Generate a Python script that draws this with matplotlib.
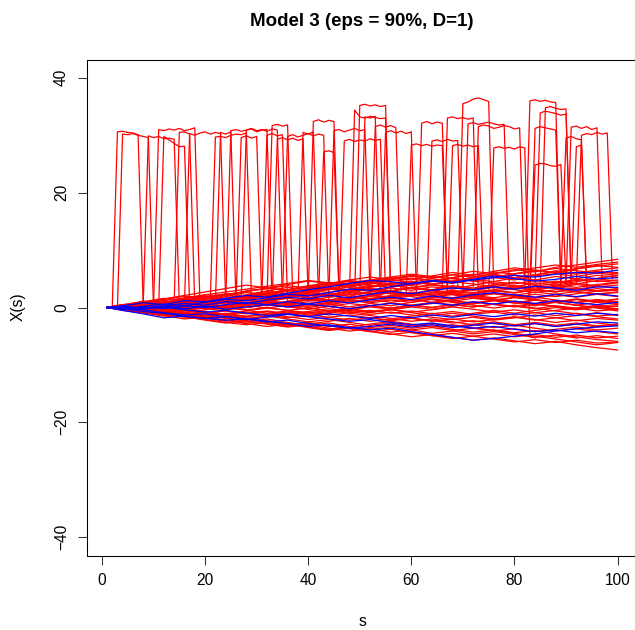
import numpy as np
import matplotlib.pyplot as plt

plt.rcParams['font.family'] = ['Liberation Sans', 'DejaVu Sans']

s_grid = [1, 4, 8, 12, 16, 20, 24, 28, 32, 36, 40, 44, 48, 52, 56, 60,
          64, 68, 72, 76, 80, 84, 88, 92, 96, 100]

# red paths (clean part of the band)
red_paths = [
    [0, 0.4, 1.1, 0.8, 1.5, 2.2, 2.0, 2.9, 3.3, 3.0, 3.8, 4.1, 4.7, 4.3, 4.9, 5.4, 5.1, 5.7, 6.3, 5.9, 6.6, 6.2, 7.0, 7.4, 7.9, 8.4],
    [0, -0.3, 0.2, 0.9, 1.4, 1.1, 1.9, 2.6, 2.3, 3.1, 3.7, 4.4, 4.0, 4.6, 5.2, 4.8, 5.5, 6.1, 5.6, 6.3, 6.9, 6.5, 6.1, 6.7, 7.2, 7.6],
    [0, 0.5, 0.1, 0.8, 1.6, 2.0, 1.5, 2.2, 2.9, 3.5, 3.1, 3.9, 4.6, 4.2, 4.8, 4.4, 5.0, 4.6, 5.3, 5.8, 5.2, 5.7, 6.4, 6.0, 6.5, 6.9],
    [0, 0.2, 0.7, 0.3, 1.0, 1.4, 2.1, 1.7, 2.4, 2.0, 2.7, 3.3, 2.9, 3.6, 4.2, 3.8, 4.5, 5.1, 4.6, 5.2, 4.8, 5.5, 5.9, 5.4, 6.0, 6.1],
    [0, -0.4, 0.0, 0.6, 0.2, 0.9, 1.5, 2.2, 2.8, 2.4, 3.0, 2.6, 3.2, 3.9, 3.5, 4.1, 4.7, 4.2, 4.9, 4.5, 5.2, 4.8, 5.4, 5.0, 5.6, 5.3],
    [0, 0.3, -0.2, 0.4, 0.9, 0.5, 1.2, 0.8, 1.5, 2.1, 1.7, 2.4, 2.0, 2.7, 3.4, 3.0, 3.6, 3.2, 3.9, 4.5, 4.1, 4.7, 4.3, 4.9, 4.5, 4.8],
    [0, 0.1, 0.6, 1.2, 0.7, 1.3, 1.0, 1.7, 2.3, 1.9, 2.6, 3.2, 2.7, 3.3, 2.9, 3.5, 4.0, 3.6, 3.2, 3.9, 4.4, 4.0, 4.6, 4.1, 4.7, 4.3],
    [0, -0.2, 0.4, 0.1, 0.7, 0.3, 0.9, 1.4, 1.0, 1.6, 1.2, 1.8, 2.4, 2.0, 2.6, 2.2, 2.9, 3.5, 3.1, 3.7, 3.3, 3.8, 3.4, 4.0, 3.6, 3.9],
    [0, 0.4, 0.9, 0.5, 1.1, 1.6, 1.2, 0.8, 1.4, 2.0, 2.6, 2.2, 2.8, 3.3, 2.9, 2.4, 3.0, 2.6, 3.2, 2.8, 3.4, 3.0, 3.6, 3.2, 3.7, 3.4],
    [0, -0.3, 0.1, -0.4, 0.2, 0.7, 0.3, 0.9, 0.5, 1.1, 1.7, 1.3, 1.9, 1.5, 2.1, 2.7, 2.2, 2.8, 2.4, 3.0, 2.6, 3.1, 2.7, 3.3, 2.9, 3.1],
    [0, 0.3, -0.1, 0.5, 0.1, 0.6, 1.1, 0.7, 1.2, 0.8, 1.4, 1.0, 1.5, 2.1, 1.7, 2.2, 1.8, 2.4, 2.0, 2.5, 2.1, 2.7, 2.3, 2.8, 2.4, 2.6],
    [0, -0.1, 0.5, 0.2, 0.8, 0.4, 0.0, 0.6, 1.1, 0.7, 1.3, 0.9, 1.4, 1.0, 1.6, 1.2, 1.7, 2.3, 1.9, 2.4, 2.0, 1.6, 2.2, 1.8, 2.3, 1.9],
    [0, 0.2, -0.3, 0.3, -0.1, 0.4, 0.9, 0.5, 1.0, 0.6, 0.2, 0.7, 1.2, 0.8, 1.3, 0.9, 1.5, 1.1, 1.6, 1.2, 1.7, 1.3, 0.9, 1.4, 1.0, 1.5],
    [0, -0.4, 0.1, -0.3, 0.2, -0.2, 0.4, 0.0, 0.5, 0.1, 0.6, 0.2, 0.7, 0.3, 0.8, 0.4, 0.0, 0.5, 0.1, 0.6, 1.1, 0.7, 1.2, 0.8, 1.3, 0.9],
    [0, 0.3, -0.2, 0.2, -0.3, 0.1, -0.4, 0.0, 0.5, 0.1, -0.3, 0.2, -0.2, 0.3, -0.1, 0.4, 0.0, 0.5, 0.1, 0.6, 0.2, -0.2, 0.3, -0.1, 0.4, 0.2],
    [0, -0.2, -0.7, -0.3, -0.8, -0.4, 0.1, -0.4, 0.0, -0.5, -0.1, -0.6, -0.2, -0.7, -0.3, -0.8, -0.4, 0.1, -0.3, -0.8, -0.4, -0.9, -0.5, -0.1, -0.6, -0.3],
    [0, 0.1, -0.4, -0.9, -0.5, -1.0, -0.6, -1.1, -0.7, -1.2, -0.8, -1.3, -0.9, -0.5, -1.0, -0.6, -1.1, -0.7, -1.2, -0.8, -1.3, -0.9, -1.4, -1.0, -1.5, -1.2],
    [0, -0.3, -0.8, -0.4, -0.9, -1.4, -1.0, -1.5, -1.1, -1.6, -2.1, -1.7, -2.2, -1.8, -2.3, -1.9, -2.4, -2.0, -2.5, -2.1, -1.7, -2.2, -1.8, -2.3, -1.9, -2.2],
    [0, 0.2, -0.3, -0.8, -1.3, -0.9, -1.4, -1.9, -1.5, -2.0, -2.5, -2.1, -2.6, -3.1, -2.7, -3.2, -2.8, -3.3, -2.9, -2.5, -3.0, -2.6, -3.1, -2.7, -3.2, -2.9],
    [0, -0.2, -0.6, -1.2, -0.8, -1.4, -1.9, -2.4, -2.0, -2.6, -3.1, -2.7, -3.3, -3.8, -3.4, -3.9, -3.5, -4.0, -3.6, -4.1, -3.7, -4.2, -3.8, -3.4, -3.9, -3.6],
    [0, -0.5, -1.0, -0.6, -1.2, -1.8, -2.3, -1.9, -2.5, -3.0, -2.6, -3.2, -3.7, -4.2, -3.8, -4.4, -4.9, -4.5, -5.0, -4.6, -5.1, -4.7, -5.2, -4.8, -5.3, -5.0],
    [0, -0.3, -0.9, -1.5, -1.1, -1.7, -2.2, -2.8, -3.3, -2.9, -3.5, -4.0, -3.6, -4.2, -4.7, -4.3, -4.9, -5.4, -5.0, -5.5, -6.0, -5.6, -6.1, -5.7, -6.2, -6.0],
    [0, -0.4, -0.8, -1.4, -2.0, -1.6, -2.2, -2.7, -2.3, -2.9, -3.4, -3.9, -3.5, -4.1, -4.6, -5.1, -4.7, -5.2, -5.7, -5.3, -5.8, -6.3, -5.9, -6.5, -7.0, -7.4],
    [0, 0.2, -0.4, -1.0, -1.6, -2.1, -2.6, -3.0, -2.6, -3.2, -2.8, -3.3, -2.9, -3.5, -3.1, -3.6, -3.2, -3.8, -4.3, -3.9, -4.4, -4.0, -4.6, -5.1, -5.6, -5.9],
    [0, 0.3, 0.8, 1.4, 2.0, 1.6, 2.2, 2.8, 3.4, 3.0, 3.6, 4.1, 3.7, 4.3, 3.9, 3.4, 3.9, 3.5, 3.0, 3.5, 3.1, 2.6, 3.1, 2.7, 2.3, 2.7],
    [0, 0.5, 1.0, 1.6, 1.2, 1.8, 2.4, 2.0, 2.6, 2.2, 1.8, 1.3, 1.8, 1.4, 0.9, 1.4, 0.9, 0.5, 1.0, 0.5, 0.1, 0.6, 0.2, -0.3, 0.2, -0.2],
    [0, -0.3, 0.3, 0.9, 1.5, 1.1, 0.6, 1.2, 0.7, 0.2, -0.3, 0.2, -0.3, -0.8, -0.4, -0.9, -1.4, -1.0, -1.5, -2.0, -1.6, -2.1, -2.6, -2.2, -2.7, -3.1],
    [0, 0.2, 0.7, 0.3, -0.2, -0.7, -1.2, -0.8, -1.3, -1.8, -1.4, -0.9, -0.4, 0.1, -0.3, 0.2, 0.7, 1.2, 0.8, 1.3, 1.8, 2.3, 1.9, 2.4, 2.9, 3.3],
    [0, -0.4, -0.9, -1.4, -1.0, -1.5, -1.1, -0.6, -0.1, 0.4, 0.0, 0.5, 1.0, 1.5, 2.0, 2.5, 2.1, 2.6, 3.1, 3.6, 3.2, 3.7, 4.2, 4.7, 5.1, 5.6],
    [0, 0.4, 0.0, -0.5, -0.1, 0.4, 0.9, 1.4, 1.9, 2.4, 2.9, 3.4, 3.0, 3.5, 4.0, 4.5, 4.1, 4.6, 5.1, 5.6, 5.2, 5.7, 6.2, 5.8, 6.3, 5.9],
    [0, -0.2, 0.3, 0.8, 1.3, 1.8, 2.3, 2.8, 3.3, 3.8, 3.4, 3.9, 3.5, 3.0, 2.6, 2.1, 2.6, 2.2, 1.7, 1.3, 0.8, 1.3, 0.9, 0.4, 0.9, 0.5],
    [0, 0.1, -0.4, -0.9, -1.4, -1.9, -2.4, -2.0, -1.5, -1.0, -1.5, -1.0, -0.5, -0.9, -0.4, 0.1, -0.3, 0.2, 0.7, 1.2, 0.8, 1.3, 0.9, 1.4, 1.0, 1.4],
    [0, 0.3, 0.7, 1.2, 1.7, 2.2, 2.7, 3.2, 3.7, 4.2, 4.7, 4.3, 3.8, 4.3, 3.9, 3.4, 2.9, 2.4, 1.9, 2.4, 1.9, 1.4, 0.9, 0.4, -0.1, -0.6],
    [0, -0.2, -0.7, -1.2, -1.7, -1.3, -1.8, -2.3, -2.8, -3.3, -2.9, -2.4, -1.9, -2.4, -2.0, -1.5, -1.0, -1.5, -1.0, -0.5, -1.0, -0.5, 0.0, -0.4, 0.1, -0.3],
    [0, 0.4, 0.9, 1.5, 2.1, 2.7, 3.3, 3.9, 3.4, 4.0, 4.6, 4.2, 4.8, 5.3, 4.9, 4.4, 4.0, 4.5, 4.1, 3.6, 3.2, 3.7, 3.3, 2.8, 3.3, 2.9],
    [0, -0.1, 0.4, 0.0, 0.5, 1.0, 1.5, 2.0, 2.5, 3.0, 2.6, 3.1, 3.6, 4.1, 4.6, 5.1, 4.7, 5.2, 5.7, 6.2, 5.8, 6.3, 6.8, 6.4, 6.0, 5.6],
    [0, 0.2, -0.2, -0.7, -0.3, -0.8, -1.3, -1.8, -2.3, -2.8, -3.3, -3.8, -3.4, -2.9, -2.4, -2.9, -3.4, -3.0, -3.5, -4.0, -4.5, -5.0, -5.5, -6.0, -6.5, -6.1],
    [0, -0.2, 0.2, 0.7, 1.2, 1.7, 1.3, 1.8, 2.3, 2.8, 3.3, 3.8, 4.3, 4.8, 5.3, 5.8, 5.4, 5.0, 4.6, 4.2, 3.8, 3.4, 3.9, 3.5, 4.0, 4.4],
    [0, 0.3, -0.1, 0.4, 0.9, 0.5, 0.0, -0.5, -1.0, -0.6, -1.1, -0.7, -0.2, 0.3, -0.1, 0.4, 0.9, 1.4, 1.9, 1.5, 1.0, 0.5, 1.0, 1.5, 1.1, 0.7],
    [0, -0.3, -0.8, -0.4, 0.1, 0.6, 0.2, 0.7, 1.2, 1.7, 2.2, 1.8, 2.3, 2.8, 2.4, 1.9, 1.4, 0.9, 0.4, -0.1, 0.4, -0.1, -0.6, -1.1, -1.6, -2.0],
    [0, 0.5, 0.2, 0.9, 1.3, 1.9, 1.4, 2.0, 1.6, 2.3, 2.9, 3.5, 3.1, 3.7, 4.3, 4.0, 4.6, 5.2, 5.8, 5.3, 5.9, 6.5, 6.1, 6.8, 7.3, 7.0],
    [0, -0.2, 0.3, -0.1, 0.6, 1.2, 0.8, 1.5, 2.1, 1.7, 2.3, 2.0, 2.6, 3.2, 2.8, 3.5, 3.1, 3.8, 3.4, 4.0, 3.6, 4.3, 3.9, 4.5, 5.0, 4.6],
    [0, 0.3, 0.6, 0.2, 0.7, 0.4, 1.0, 1.5, 1.1, 1.8, 2.4, 2.0, 1.6, 2.2, 1.8, 2.5, 2.1, 1.7, 2.3, 2.9, 2.5, 3.1, 2.7, 3.3, 2.8, 3.0],
    [0, -0.4, -0.1, -0.6, -0.2, 0.3, -0.2, 0.4, 0.9, 0.5, 1.0, 0.6, 0.1, 0.7, 0.3, 0.9, 1.4, 1.0, 0.6, 1.2, 0.8, 0.3, 0.9, 0.4, 0.0, 0.3],
    [0, 0.2, -0.3, -0.7, -1.1, -0.7, -1.2, -1.6, -1.2, -0.8, -1.3, -1.7, -1.3, -1.8, -2.2, -1.8, -2.3, -2.7, -2.3, -2.8, -3.2, -2.8, -3.3, -2.9, -3.4, -3.0],
    [0, -0.3, -0.6, -1.1, -1.6, -2.2, -2.7, -2.3, -2.9, -3.4, -3.0, -3.6, -4.1, -3.7, -4.3, -3.9, -4.5, -4.1, -4.6, -4.2, -4.7, -5.2, -4.8, -5.3, -4.9, -5.4],
    [0, 0.1, 0.5, 1.0, 0.6, 1.1, 1.6, 2.1, 1.7, 2.2, 2.7, 2.3, 2.8, 2.4, 2.9, 3.4, 3.0, 2.6, 2.1, 1.7, 2.2, 1.8, 1.3, 0.9, 1.4, 1.0],
    [0, -0.1, -0.5, -0.9, -0.5, -0.1, 0.4, 0.0, 0.5, 1.0, 1.5, 1.1, 1.6, 2.1, 2.6, 2.2, 1.8, 1.4, 1.9, 1.5, 1.0, 0.6, 0.2, -0.3, 0.1, -0.4],
    [0, 0.4, 0.1, -0.3, 0.2, -0.2, -0.6, -1.0, -0.6, -1.1, -0.7, -0.2, -0.7, -1.2, -0.8, -1.3, -1.7, -2.1, -1.7, -2.2, -1.8, -1.3, -1.8, -1.4, -0.9, -1.4],
    [0, -0.2, 0.2, 0.7, 1.2, 0.8, 1.3, 1.9, 2.5, 3.1, 3.7, 3.3, 3.9, 4.5, 5.0, 5.6, 5.2, 5.7, 5.3, 5.9, 6.4, 6.9, 7.4, 7.0, 7.5, 7.9],
    [0, 0.1, -0.3, 0.2, 0.7, 0.3, -0.1, 0.4, -0.1, -0.5, -0.9, -0.5, -1.0, -1.4, -1.9, -2.4, -2.0, -2.5, -3.0, -3.5, -3.1, -3.6, -4.1, -3.7, -4.2, -4.6],
    [0, -0.3, 0.1, 0.5, 0.1, 0.6, 1.1, 0.7, 0.3, 0.8, 0.4, 0.9, 1.4, 1.9, 1.5, 2.0, 2.5, 3.0, 2.6, 3.1, 3.6, 3.2, 3.7, 4.2, 3.8, 4.3],
]

# jumps of the contaminated red paths: first step, then the values step by
# step (first and last value being the level back in the band)
jump_starts = [2, 3, 8, 10, 11, 14, 16, 21, 22, 24, 26, 27, 31, 32, 33, 35,
               38, 40, 42, 44, 46, 48, 49, 50, 52, 54, 59, 61, 63, 66, 67,
               69, 70, 72, 75, 82, 83, 83, 84, 85, 89, 90, 91, 92]
jump_values = [
    [0.1, 30.6, 30.7, 30.5, 30.4, 30.1, 0.4],
    [0.0, 30.2, 30.1, 30.3, 30.0, 29.8, 29.6, -0.2],
    [0.5, 29.9, 29.6, 29.8, 29.4, 29.5, 29.3, 0.8],
    [0.3, 31.0, 30.8, 31.1, 30.9, 31.2, 30.8, 31.0, 31.3, 0.9],
    [0.2, 29.8, 29.2, 28.6, 28.0, 28.1, 0.6],
    [0.8, 30.5, 30.6, 30.2, 0.5],
    [0.4, 30.3, 30.0, 30.4, 30.6, 30.2, 30.5, 30.3, 1.1],
    [1.0, 29.7, 29.8, 29.6, 30.0, 30.2, 30.1, 30.4, 1.3],
    [0.6, 30.5, 30.2, 30.6, 0.9],
    [1.2, 30.8, 31.0, 30.7, 30.9, 31.1, 30.6, 30.9, 31.0, 0.7],
    [0.9, 29.6, 29.9, 29.5, 29.8, 1.4],
    [1.1, 30.9, 31.2, 30.8, 31.0, 30.7, 31.1, 30.9, 1.6],
    [1.5, 30.0, 30.3, 29.9, 30.1, 1.0],
    [1.3, 31.7, 31.9, 31.6, 31.8, 1.8],
    [0.8, 29.3, 29.6, 29.2, 29.5, 29.1, 29.4, 1.7],
    [1.9, 29.8, 30.1, 29.7, 30.0, 30.3, 29.9, 30.2, 30.0, 1.2],
    [1.4, 30.5, 30.2, 30.6, 2.0],
    [2.1, 32.4, 32.7, 32.3, 32.6, 32.4, 1.5],
    [1.8, 27.1, 27.3, 27.0, 2.3],
    [2.2, 30.8, 31.0, 30.6, 30.9, 31.2, 30.8, 31.0, 1.9],
    [1.6, 29.0, 29.3, 28.9, 29.2, 29.0, 29.4, 29.1, 29.3, 2.5],
    [2.4, 34.4, 33.2, 33.0, 33.3, 33.1, 32.9, 33.0, 2.0],
    [1.7, 35.2, 35.4, 35.1, 35.3, 35.0, 35.2, 2.8],
    [2.6, 33.2, 33.0, 33.3, 2.1],
    [2.0, 31.5, 31.8, 31.4, 31.7, 31.3, 2.9],
    [2.7, 30.5, 30.8, 30.4, 30.7, 30.3, 30.6, 2.2],
    [2.3, 28.3, 28.5, 28.2, 28.4, 28.1, 28.3, 28.2, 3.2],
    [3.0, 32.1, 32.4, 32.0, 32.3, 32.1, 2.4],
    [2.8, 29.0, 29.2, 28.9, 29.3, 29.0, 29.1, 3.4],
    [3.3, 33.0, 33.2, 32.9, 33.1, 32.8, 33.0, 2.6],
    [2.5, 28.2, 28.4, 28.1, 28.3, 28.0, 28.2, 3.6],
    [3.5, 35.5, 35.8, 36.3, 36.5, 36.2, 35.9, 2.9],
    [2.9, 32.0, 32.2, 31.9, 32.1, 32.3, 32.0, 31.8, 31.9, 3.8],
    [3.7, 31.5, 31.8, 31.6, 31.2, 31.4, 31.7, 31.5, 31.1, 31.3, 3.1],
    [3.2, 27.8, 28.0, 27.7, 27.9, 27.6, 28.0, 27.8, -5.1, -5.3],
    [4.1, 36.0, 36.2, 35.9, 36.1, 35.8, 35.7, 3.5],
    [3.6, 31.2, 31.5, 31.3, 31.1, 30.9, 4.2],
    [2.2, 24.8, 25.1, 25.0, 24.7, 24.6, 24.9, 4.3],
    [4.4, 33.9, 34.2, 34.0, 33.8, 33.5, 33.7, 3.9],
    [3.8, 34.8, 35.0, 34.7, 34.5, 34.6, 4.6],
    [4.5, 29.5, 29.8, 29.4, 29.2, 3.7],
    [4.0, 31.4, 31.6, 31.2, 31.5, 31.0, 31.3, 4.8],
    [4.7, 28.0, 28.3, 4.2],
    [4.3, 30.0, 30.3, 30.1, 30.5, 30.2, 30.4, 5.0],
]

# blue paths
blue_paths = [
    [0, 0.3, 0.8, 0.5, 1.2, 1.0, 1.6, 2.1, 1.8, 2.5, 3.1, 3.6, 4.2, 4.7, 4.5, 4.1, 4.6, 4.3, 4.8, 5.2, 5.6, 5.3, 5.8, 6.1, 6.0, 6.5],
    [0, -0.2, 0.2, 0.6, 0.3, 0.9, 1.4, 1.2, 1.7, 2.3, 2.0, 2.6, 3.2, 3.0, 3.6, 4.2, 4.7, 4.4, 4.9, 5.5, 5.0, 4.6, 4.9, 5.4, 5.0, 5.2],
    [0, 0.2, -0.2, 0.3, 0.7, 0.4, 1.0, 0.7, 1.3, 1.8, 1.5, 2.1, 1.7, 2.3, 2.8, 2.4, 3.0, 3.4, 3.1, 3.6, 3.2, 3.7, 3.4, 3.0, 3.6, 3.5],
    [0, -0.3, 0.1, -0.2, 0.3, 0.0, 0.5, 0.9, 0.5, 1.0, 0.6, 1.2, 0.8, 1.3, 1.8, 1.4, 2.0, 1.6, 2.2, 2.6, 2.2, 1.8, 2.3, 1.9, 2.4, 2.0],
    [0, 0.2, -0.1, 0.3, -0.2, 0.2, -0.3, 0.1, 0.5, 0.1, 0.6, 0.2, -0.2, 0.3, 0.7, 0.3, 0.8, 0.4, 1.0, 0.6, 1.1, 0.7, 1.2, 0.8, 0.5, 0.9],
    [0, -0.5, -1.1, -1.8, -1.5, -1.9, -1.6, -2.1, -1.7, -1.2, -1.6, -1.1, -1.5, -1.9, -1.4, -1.8, -1.3, -1.7, -1.2, -1.6, -1.1, -1.5, -1.0, -1.4, -1.0, -1.3],
    [0, -0.2, -0.7, -1.0, -1.5, -1.9, -2.2, -2.0, -2.5, -2.2, -2.8, -3.2, -3.6, -3.3, -2.9, -3.4, -3.0, -3.5, -3.1, -2.7, -3.2, -2.8, -3.3, -2.9, -2.5, -2.7],
    [0, -0.1, -0.4, -0.9, -1.3, -1.1, -1.6, -2.0, -2.4, -2.8, -3.3, -3.0, -3.5, -3.9, -3.6, -4.2, -4.7, -5.2, -5.7, -5.4, -5.0, -4.6, -4.1, -3.7, -3.4, -3.2],
    [0, 0.1, -0.3, 0.1, -0.4, -0.8, -0.5, -1.0, -1.4, -1.1, -1.6, -2.0, -2.4, -2.1, -2.6, -3.0, -2.7, -3.2, -3.6, -3.3, -3.8, -4.2, -3.9, -4.4, -4.1, -4.4],
]

x_ticks = [0, 20, 40, 60, 80, 100]
y_ticks = [-40, -20, 0, 20, 40]

fig = plt.figure(figsize=(6.35, 6.3), dpi=100)
ax = fig.add_axes([86.7 / 635, 74.5 / 630, 551.3 / 635, 496 / 630])

for path in red_paths:
    ax.plot(s_grid, path, color='#FF0000', lw=0.9)
for start, vals in zip(jump_starts, jump_values):
    ax.plot(np.arange(start, start + len(vals)), vals, color='#FF0000', lw=0.9)
for path in blue_paths:
    ax.plot(s_grid, path, color='#0000FF', lw=0.9)

ax.set_xlim(-2.96, 103.96)
ax.set_ylim(-43.2, 43.2)
ax.set_xticks(x_ticks)
ax.set_yticks(y_ticks)
ax.tick_params(length=6.8, width=0.75, labelsize=11.2, pad=6, color='#333333')
for lab in ax.get_yticklabels():
    lab.set_rotation(90)
    lab.set_va('center')
for sp in ax.spines.values():
    sp.set_linewidth(0.75)

fig.text(362 / 635, 1 - 21 / 630, 'Model 3 (eps = 90%, D=1)', ha='center',
         va='center', fontsize=13.5, fontweight='bold')
fig.text(362 / 635, 1 - 622 / 630, 's', ha='center', va='center', fontsize=11.2)
fig.text(18 / 635, 1 - 307 / 630, 'X(s)', ha='center', va='center',
         rotation=90, fontsize=11.2)

fig.savefig('out.png', dpi=100)
